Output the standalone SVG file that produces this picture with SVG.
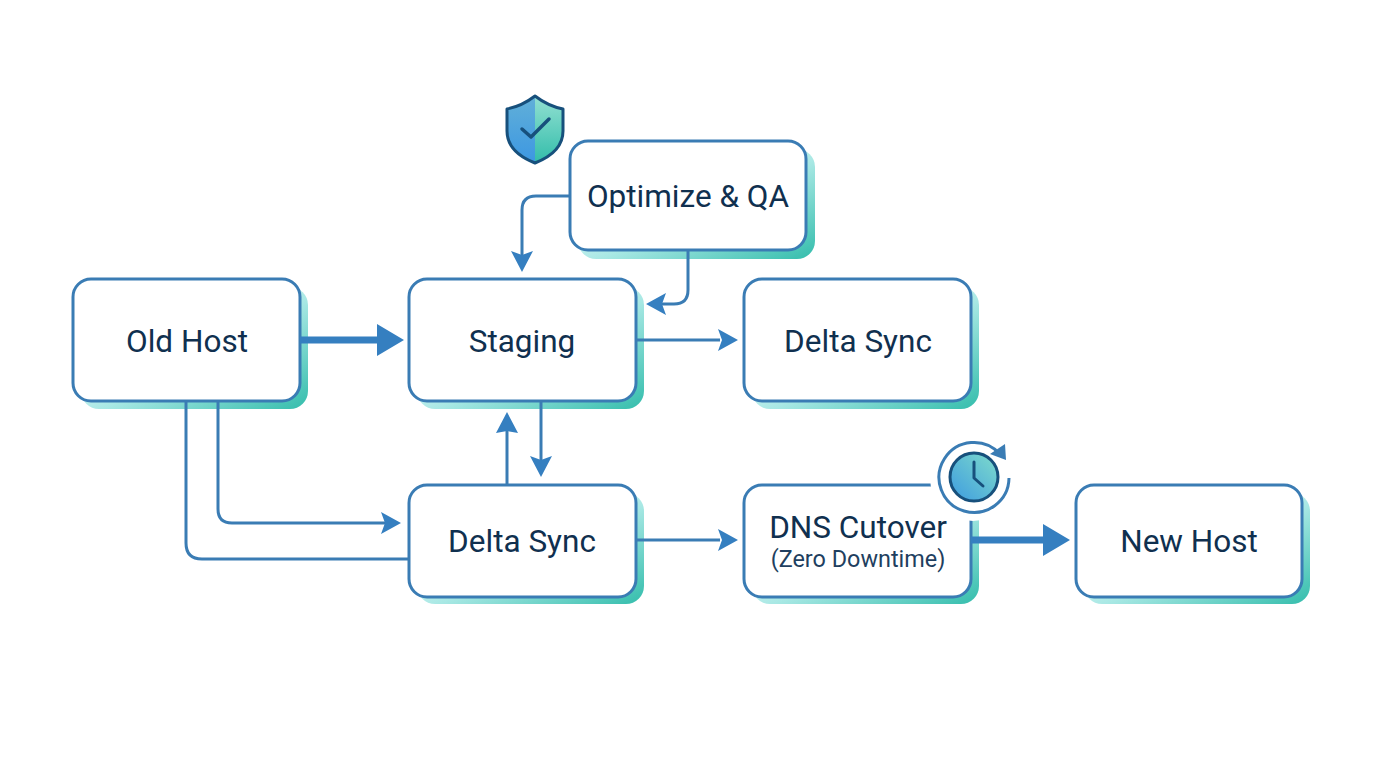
<svg xmlns="http://www.w3.org/2000/svg" width="1376" height="768" viewBox="0 0 1376 768">
<style>
.box{fill:#fff;stroke:#3a7cb4;stroke-width:3}
.sh{fill:url(#shadow)}
.t{font-family:Roboto,"Liberation Sans",sans-serif;font-size:31.5px;fill:#10304f;text-anchor:middle}
.s{font-size:23.4px;fill:#1f3f60}
.c{fill:none;stroke:#3a7cb4;stroke-width:3}
.k{fill:none;stroke:#357fc0;stroke-width:7}
.a{fill:#357fc0}
</style>
<defs>
<linearGradient id="shadow" x1="0" y1="0" x2="1" y2="1">
<stop offset="0.4" stop-color="#c8f0ef"/><stop offset="0.55" stop-color="#a8e8e4"/><stop offset="1" stop-color="#34bdac"/>
</linearGradient>
<linearGradient id="shL" x1="0" y1="0" x2="0" y2="1"><stop offset="0" stop-color="#62b0d8"/><stop offset="1" stop-color="#3c97e2"/></linearGradient>
<linearGradient id="shR" x1="0" y1="0" x2="0" y2="1"><stop offset="0" stop-color="#93e0d2"/><stop offset="1" stop-color="#32bdaa"/></linearGradient>
<linearGradient id="clk" x1="0" y1="1" x2="1" y2="0"><stop offset="0" stop-color="#3d9be0"/><stop offset="1" stop-color="#7fdccb"/></linearGradient>
</defs>
<rect width="1376" height="768" fill="#fff"/>

<g id="node-optimize">
<rect class="sh" x="578" y="149" width="237" height="110" rx="18"/>
<rect class="box" x="570" y="141" width="236" height="109" rx="18"/>
<text class="t" x="688" y="207">Optimize &amp; QA</text>
</g>
<g id="node-old-host">
<rect class="sh" x="81" y="287" width="227" height="122" rx="18"/>
<rect class="box" x="73" y="279" width="227" height="122" rx="18"/>
<text class="t" x="187" y="352">Old Host</text>
</g>
<g id="node-staging">
<rect class="sh" x="417" y="287" width="227" height="122" rx="18"/>
<rect class="box" x="409" y="279" width="227" height="122" rx="18"/>
<text class="t" x="522" y="352">Staging</text>
</g>
<g id="node-delta-top">
<rect class="sh" x="752" y="287" width="227" height="122" rx="18"/>
<rect class="box" x="744" y="279" width="227" height="122" rx="18"/>
<text class="t" x="858" y="352">Delta Sync</text>
</g>
<g id="node-delta-bottom">
<rect class="sh" x="417" y="493" width="227" height="111" rx="18"/>
<rect class="box" x="409" y="485" width="227" height="112" rx="18"/>
<text class="t" x="522" y="552">Delta Sync</text>
</g>
<g id="node-dns">
<rect class="sh" x="752" y="493" width="227" height="111" rx="18"/>
<rect class="box" x="744" y="485" width="227" height="112" rx="18"/>
<text class="t" x="858" y="538">DNS Cutover</text>
<text class="t s" x="858" y="567">(Zero Downtime)</text>
</g>
<g id="node-new-host">
<rect class="sh" x="1084" y="493" width="226" height="111" rx="18"/>
<rect class="box" x="1076" y="485" width="226" height="112" rx="18"/>
<text class="t" x="1189" y="552">New Host</text>
</g>

<g id="connectors">
<path class="k" d="M300 340H380"/>
<path class="a" d="M404 340L377 324V356Z"/>
<path class="c" d="M636 340H720"/>
<path class="a" d="M738 340L718 329L722 340L718 351Z"/>
<path class="c" d="M570 196H536Q522 196 522 210V255"/>
<path class="a" d="M522 272L511 251L522 255L533 251Z"/>
<path class="c" d="M688 250V290Q688 304 674 304H660"/>
<path class="a" d="M646 304L666 293L662 304L666 315Z"/>
<path class="c" d="M507 485V430"/>
<path class="a" d="M507 412L496 433L507 431L518 433Z"/>
<path class="c" d="M541 401V460"/>
<path class="a" d="M541 477L530 456L541 460L552 456Z"/>
<path class="c" d="M218 401V509Q218 523 232 523H385"/>
<path class="a" d="M401 523L381 512L385 523L381 534Z"/>
<path class="c" d="M186 401V543Q186 559 202 559H409"/>
<path class="c" d="M636 540H720"/>
<path class="a" d="M738 540L718 529L722 540L718 551Z"/>
<path class="k" d="M971 540H1046"/>
<path class="a" d="M1070 540L1043 524V556Z"/>
</g>

<g id="icon-shield">
<path d="M535 96Q548 106 563 109V131Q563 152 535 163Z" fill="url(#shR)"/>
<path d="M535 96Q522 106 507 109V131Q507 152 535 163Z" fill="url(#shL)"/>
<path d="M535 96Q548 106 563 109V131Q563 152 535 163Q507 152 507 131V109Q522 106 535 96Z" fill="none" stroke="#17507c" stroke-width="3" stroke-linejoin="round"/>
<path d="M522 129L531 137L549 119" fill="none" stroke="#17507c" stroke-width="3.5" stroke-linecap="round" stroke-linejoin="round"/>
</g>
<g id="icon-clock">
<circle cx="973" cy="478" r="43" fill="#fff"/>
<path d="M1009 478A35 35 0 1 1 1000 454" fill="none" stroke="#3a7cb4" stroke-width="3"/>
<path d="M1006 460L1005 444L990 454Z" fill="#3a7cb4"/>
<circle cx="974" cy="477" r="24" fill="url(#clk)" stroke="#17507c" stroke-width="3"/>
<path d="M974 462V478L983 486" fill="none" stroke="#17507c" stroke-width="3" stroke-linecap="round" stroke-linejoin="round"/>
</g>
</svg>
